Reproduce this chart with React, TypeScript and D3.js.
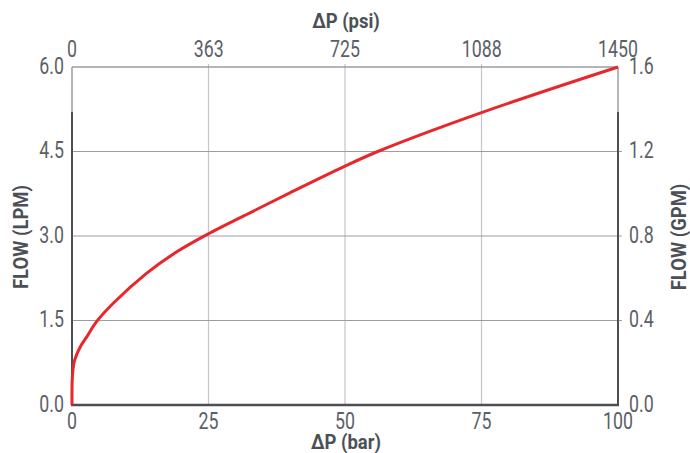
import * as d3 from "d3";

// curve (bar vs LPM)
const pressureBar = [0, 0.1, 0.5, 1.5, 2.7, 4.5, 7.6, 13.7, 19.2, 25, 33.8, 40, 50, 56, 75, 100];
const flowLpm = [0, 0.55, 0.8, 1.03, 1.21, 1.48, 1.81, 2.34, 2.72, 3.04, 3.47, 3.77, 4.24, 4.5, 5.19, 6.0];

const barTicks = [0, 25, 50, 75, 100];
const psiTicks = [0, 363, 725, 1088, 1450];
const lpmTicks = [0, 1.5, 3.0, 4.5, 6.0];
const gpmTicks = [0, 0.4, 0.8, 1.2, 1.6];

const width = 690;
const height = 453;
const left = 72;
const right = 618;
const top = 67;
const bottom = 405;

const font = "Roboto, 'Noto Sans', sans-serif";
const labelColor = "#5b6067";
const titleColor = "#4b5056";
const axisDark = "#4b4e53";

// condensed text: Roboto squeezed horizontally
function Label(props: {
  x: number;
  y: number;
  text: string;
  anchor: string;
  size: number;
  sx: number;
  bold?: boolean;
  rotate?: boolean;
}) {
  const { x, y, text, anchor, size, sx, bold, rotate } = props;
  const tf = `translate(${x},${y})${rotate ? " rotate(-90)" : ""} scale(${sx},1)`;
  return (
    <text
      transform={tf}
      textAnchor={anchor}
      fontFamily={font}
      fontSize={size}
      fontWeight={bold ? "bold" : "normal"}
      fill={bold ? titleColor : labelColor}
    >
      {text}
    </text>
  );
}

export default function App() {
  const x = d3.scaleLinear().domain([0, 100]).range([left, right]);
  const xPsi = d3.scaleLinear().domain([0, 1450]).range([left, right]);
  const y = d3.scaleLinear().domain([0, 6]).range([bottom, top]);
  const yGpm = d3.scaleLinear().domain([0, 1.6]).range([bottom, top]);

  const line = d3
    .line<number>()
    .x((d) => x(d))
    .y((d, i) => y(flowLpm[i]))
    .curve(d3.curveCatmullRom.alpha(0.5));

  const darkStart = y(5.2);

  return (
    <div style={{ position: "absolute", left: 0, top: 0 }}>
      <svg width={width} height={height} style={{ display: "block", background: "#fff" }}>
        {/* vertical grid */}
        {barTicks.slice(1, -1).map((t) => (
          <line key={"vx" + t} x1={x(t)} x2={x(t)} y1={top - 3} y2={bottom} stroke="#c3c5ca" strokeWidth={1.2} />
        ))}
        {/* horizontal grid */}
        {lpmTicks.slice(1, -1).map((t) => (
          <line key={"hy" + t} x1={left} x2={right + 4} y1={y(t)} y2={y(t)} stroke="#9a9da4" strokeWidth={1.2} />
        ))}
        {/* frame */}
        <line x1={left} x2={right} y1={top} y2={top} stroke="#9a9da4" strokeWidth={1.5} />
        <line x1={left} x2={left} y1={top} y2={bottom} stroke="#9a9da4" strokeWidth={1.5} />
        <line x1={right} x2={right} y1={top} y2={bottom} stroke="#9a9da4" strokeWidth={1.5} />
        <line x1={left} x2={left} y1={darkStart} y2={bottom} stroke={axisDark} strokeWidth={2} />
        <line x1={right} x2={right} y1={darkStart} y2={bottom} stroke={axisDark} strokeWidth={2} />
        <line x1={left - 1} x2={right + 1} y1={bottom} y2={bottom} stroke={axisDark} strokeWidth={2.5} />

        {/* curve */}
        <path d={line(pressureBar) || ""} fill="none" stroke="#e8262b" strokeWidth={3} strokeLinejoin="round" />

        {barTicks.map((t) => (
          <Label key={"b" + t} x={x(t)} y={429} text={String(t)} anchor="middle" size={24} sx={0.74} />
        ))}
        {psiTicks.map((t) => (
          <Label key={"p" + t} x={xPsi(t)} y={57} text={String(t)} anchor="middle" size={24} sx={0.74} />
        ))}
        {lpmTicks.map((t) => (
          <Label key={"l" + t} x={64} y={y(t) + 6.5} text={t.toFixed(1)} anchor="end" size={24} sx={0.74} />
        ))}
        {gpmTicks.map((t) => (
          <Label key={"r" + t} x={629} y={yGpm(t) + 6.5} text={t.toFixed(1)} anchor="start" size={24} sx={0.74} />
        ))}

        <Label x={346} y={28} text="ΔP (psi)" anchor="middle" size={21} sx={0.88} bold />
        <Label x={346} y={449} text="ΔP (bar)" anchor="middle" size={21} sx={0.88} bold />
        <Label x={28} y={237} text="FLOW (LPM)" anchor="middle" size={21} sx={0.88} bold rotate />
        <Label x={686} y={237} text="FLOW (GPM)" anchor="middle" size={21} sx={0.88} bold rotate />
      </svg>
    </div>
  );
}
